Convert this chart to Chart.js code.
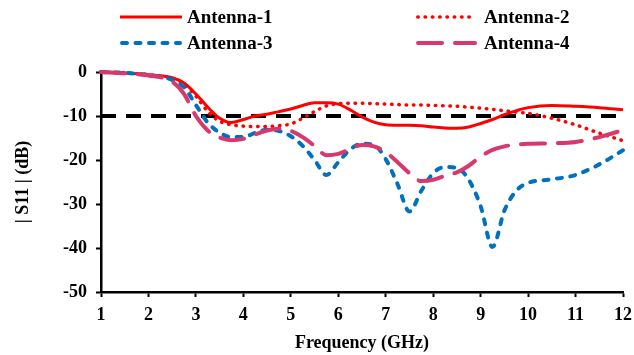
<!DOCTYPE html>
<html>
<head>
<meta charset="utf-8">
<script src="https://cdn.jsdelivr.net/npm/chart.js@4/dist/chart.umd.min.js"></script>
<style>
  html, body { margin: 0; padding: 0; background: #ffffff; }
  #wrap { width: 634px; height: 355px; }
</style>
</head>
<body>
<div id="wrap"><canvas id="s11" width="634" height="355"></canvas></div>
<script>
// Frequency sweep (GHz)
const freqGHz = [1, 1.5, 2, 2.5, 2.75, 3, 3.25, 3.5, 3.75, 4, 4.25, 4.5, 4.75, 5, 5.25, 5.5, 5.75, 6, 6.25, 6.5, 6.75, 7, 7.25, 7.5, 7.75, 8, 8.25, 8.5, 8.75, 9, 9.25, 9.5, 9.75, 10, 10.5, 11, 11.5, 12];

// |S11| in dB for each antenna
const antenna1 = [0, -0.2, -0.6, -1.3, -2.5, -5, -8, -10.5, -11.5, -10.8, -10, -9.6, -9, -8.4, -7.6, -7, -7, -7.3, -8.6, -10.2, -11.4, -12, -12.1, -12.1, -12.2, -12.5, -12.7, -12.8, -12.5, -11.7, -10.8, -9.7, -8.8, -8.1, -7.6, -7.8, -8.1, -8.6];
const antenna2 = [0, -0.2, -0.6, -1.4, -2.8, -5.5, -9, -11.2, -12, -12.3, -12.4, -12.4, -12.2, -11.8, -10.5, -9, -7.7, -7.2, -7.1, -7.1, -7.2, -7.3, -7.4, -7.5, -7.5, -7.6, -7.7, -7.8, -8, -8.2, -8.5, -8.8, -9.1, -9.4, -10.5, -12, -13.9, -15.6];
const antenna3 = [0, -0.2, -0.7, -1.8, -3.5, -7.5, -11.5, -13.8, -14.8, -14.8, -13.8, -13.1, -13.4, -14.6, -16.8, -20, -23.4, -20.5, -17.6, -16.3, -16.6, -19.8, -25.5, -31.7, -27, -23, -21.6, -21.8, -24.5, -30.5, -39.8, -31.5, -27, -25.2, -24.4, -23.4, -21, -17.8];
const antenna4 = [0, -0.3, -0.8, -2.2, -5, -10, -13.3, -14.9, -15.5, -15.2, -14.2, -13.3, -12.9, -13.4, -14.8, -16.8, -18.9, -18.6, -17.5, -16.6, -16.9, -18.2, -20.5, -23, -24.8, -24.5, -23.6, -22.8, -21.3, -19.2, -17.7, -16.9, -16.5, -16.3, -16.2, -15.9, -14.8, -13.2];

// -10 dB reference level across the band
const refFreq = [1, 12];
const refLevel = [-10, -10];

const seriesNames = ['Antenna-1', 'Antenna-2', 'Antenna-3', 'Antenna-4'];

const FONT = "'Liberation Serif', 'Times New Roman', serif";

const styles = [
  { color: '#ff0000', width: 3, dash: [], cap: 'butt' },
  { color: '#ff0000', width: 3.5, dash: [0.5, 6.8], cap: 'round' },
  { color: '#0070c0', width: 4, dash: [5, 8.5], cap: 'round' },
  { color: '#d8386b', width: 4, dash: [24, 13], cap: 'round' }
];

function pts(xs, ys) {
  return xs.map((x, i) => ({ x: x, y: ys[i] }));
}

const seriesData = [antenna1, antenna2, antenna3, antenna4];

const datasets = seriesData.map((vals, i) => ({
  label: seriesNames[i],
  data: pts(freqGHz, vals),
  borderColor: styles[i].color,
  borderWidth: styles[i].width,
  borderDash: styles[i].dash,
  borderCapStyle: styles[i].cap,
  pointRadius: 0,
  fill: false,
  cubicInterpolationMode: 'monotone',
  clip: 6,
  order: 4 - i
}));

datasets.push({
  label: 'ref',
  data: pts(refFreq, refLevel),
  borderColor: '#000000',
  borderWidth: 4,
  borderDash: [15, 10],
  borderCapStyle: 'butt',
  pointRadius: 0,
  fill: false,
  order: 10
});

// Two-column legend drawn above the plot area
const legendItems = [
  { idx: 0, x0: 120, x1: 182, y: 17, tx: 187 },
  { idx: 1, x0: 416, x1: 476, y: 17, tx: 484 },
  { idx: 2, x0: 120, x1: 182, y: 43, tx: 187 },
  { idx: 3, x0: 416, x1: 477, y: 43, tx: 484 }
];

const legendPlugin = {
  id: 'twoColumnLegend',
  afterDraw(chart) {
    const ctx = chart.ctx;
    ctx.save();
    legendItems.forEach(it => {
      const st = styles[it.idx];
      ctx.beginPath();
      ctx.strokeStyle = st.color;
      ctx.lineWidth = st.width;
      ctx.lineCap = st.cap;
      ctx.setLineDash(st.dash);
      const inset = st.cap === 'round' ? st.width / 2 : 0;
      ctx.moveTo(it.x0 + inset, it.y);
      ctx.lineTo(it.x1 - inset, it.y);
      ctx.stroke();
      ctx.setLineDash([]);
      ctx.fillStyle = '#000000';
      ctx.font = 'bold 19px ' + FONT;
      ctx.textAlign = 'left';
      ctx.textBaseline = 'middle';
      ctx.fillText(seriesNames[it.idx], it.tx, it.y + 1);
    });
    ctx.restore();
  }
};

new Chart(document.getElementById('s11'), {
  type: 'line',
  data: { datasets: datasets },
  plugins: [legendPlugin],
  options: {
    responsive: false,
    animation: false,
    devicePixelRatio: 1,
    layout: { padding: { left: 0, right: 11, top: 72, bottom: 0 } },
    plugins: {
      legend: { display: false },
      tooltip: { enabled: false }
    },
    scales: {
      x: {
        type: 'linear',
        min: 1,
        max: 12,
        afterFit(scale) {
          scale.height = 63;
          scale.paddingLeft = 0;
          scale.paddingRight = 0;
        },
        ticks: {
          stepSize: 1,
          color: '#000000',
          padding: 8,
          maxRotation: 0,
          font: { family: FONT, size: 18, weight: 'bold' }
        },
        grid: {
          display: true,
          drawOnChartArea: false,
          drawTicks: true,
          tickLength: 5,
          tickWidth: 2,
          tickColor: '#000000'
        },
        border: { display: true, color: '#000000', width: 2.5 },
        title: {
          display: true,
          text: 'Frequency (GHz)',
          color: '#000000',
          padding: { top: 0, bottom: 1 },
          font: { family: FONT, size: 18, weight: 'bold' }
        }
      },
      y: {
        min: -50,
        max: 0,
        afterFit(scale) { scale.width = 101; },
        ticks: {
          stepSize: 10,
          color: '#000000',
          padding: 9,
          font: { family: FONT, size: 18, weight: 'bold' }
        },
        grid: {
          display: true,
          drawOnChartArea: false,
          drawTicks: true,
          tickLength: 5,
          tickWidth: 2,
          tickColor: '#000000'
        },
        border: { display: true, color: '#000000', width: 2.5 },
        title: {
          display: true,
          text: '| S11 | (dB)',
          color: '#000000',
          padding: { top: 13, bottom: 0 },
          font: { family: FONT, size: 18, weight: 'bold' }
        }
      }
    }
  }
});
</script>
</body>
</html>
